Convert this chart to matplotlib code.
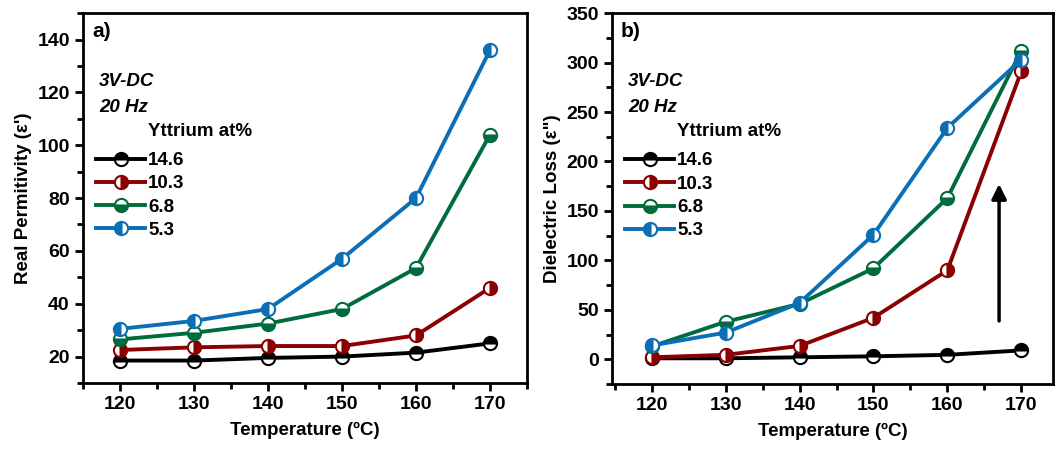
"""
Dielectric response vs temperature for Y-doped samples
Two panels: real permittivity (a) and dielectric loss (b)
"""

import matplotlib
matplotlib.use('Agg')
import matplotlib.pyplot as plt
from matplotlib.ticker import MultipleLocator

plt.rcParams['font.family'] = ['Liberation Sans', 'DejaVu Sans']
plt.rcParams['font.weight'] = 'bold'

# Data
temperature = [120, 130, 140, 150, 160, 170]
yttrium_labels = ['14.6', '10.3', '6.8', '5.3']
series_colors = ['#000000', '#8b0000', '#006b3c', '#0a6fb5']
fill_styles = ['top', 'right', 'bottom', 'left']

real_perm = [
    [18.5, 18.5, 19.5, 20.0, 21.5, 25.0],
    [22.5, 23.5, 24.0, 24.0, 28.0, 46.0],
    [26.5, 29.0, 32.5, 38.0, 53.5, 104.0],
    [30.5, 33.5, 38.0, 57.0, 80.0, 136.0],
]

diel_loss = [
    [1.0, 1.0, 2.0, 3.0, 4.5, 9.0],
    [2.0, 4.5, 13.5, 42.0, 90.0, 291.0],
    [13.0, 38.0, 56.0, 92.0, 163.0, 312.0],
    [14.0, 27.0, 57.0, 126.0, 234.0, 303.0],
]


def style_axis(ax, ylim, ymajor, yminor):
    """Set limits, ticks and spines like the original Origin plot."""
    ax.set_xlim(115, 175)
    ax.set_ylim(*ylim)
    ax.xaxis.set_major_locator(MultipleLocator(10))
    ax.xaxis.set_minor_locator(MultipleLocator(5))
    ax.yaxis.set_major_locator(MultipleLocator(ymajor))
    ax.yaxis.set_minor_locator(MultipleLocator(yminor))
    ax.tick_params(which='both', direction='out', width=2,
                   top=False, right=False, labelsize=14)
    ax.tick_params(which='major', length=6)
    ax.tick_params(which='minor', length=4)
    for spine in ax.spines.values():
        spine.set_linewidth(2)
    ax.set_xlabel('Temperature (ºC)', fontsize=13.5, fontweight='bold', labelpad=6)


def draw_panel(ax, values, tag):
    """Draw the four series plus the annotations."""
    for vals, lab, col, fs in zip(values, yttrium_labels, series_colors, fill_styles):
        ax.plot(temperature, vals, color=col, lw=2.8, marker='o', markersize=9.5,
                fillstyle=fs, markerfacecolor=col, markerfacecoloralt='white',
                markeredgecolor=col, markeredgewidth=1.5, label=lab)
    ax.text(0.02, 0.975, tag, transform=ax.transAxes, fontsize=15,
            fontweight='bold', va='top', ha='left')
    ax.text(0.036, 0.815, '3V-DC', transform=ax.transAxes, fontsize=13.5,
            fontweight='bold', style='italic', va='center')
    ax.text(0.036, 0.745, '20 Hz', transform=ax.transAxes, fontsize=13.5,
            fontweight='bold', style='italic', va='center')
    ax.text(0.147, 0.68, 'Yttrium at%', transform=ax.transAxes, fontsize=13.5,
            fontweight='bold', va='center')
    ax.legend(loc='upper left', bbox_to_anchor=(0.005, 0.655), frameon=False,
              fontsize=13.5, handlelength=2.6, handletextpad=0.15,
              labelspacing=0.33, borderaxespad=0.2)


fig = plt.figure(figsize=[10.55, 4.53], dpi=100)
ax_a = fig.add_axes([0.0787, 0.1545, 0.4208, 0.8165])
ax_b = fig.add_axes([0.5801, 0.1523, 0.4180, 0.8187])

draw_panel(ax_a, real_perm, 'a)')
style_axis(ax_a, (10, 150), 20, 10)
ax_a.set_ylabel("Real Permitivity (ε')", fontsize=13.5, fontweight='bold')

draw_panel(ax_b, diel_loss, 'b)')
style_axis(ax_b, (-25, 350), 50, 25)
ax_b.set_xlim(114.6, 174.3)
ax_b.set_ylabel('Dielectric Loss (ε")', fontsize=13.5, fontweight='bold')

# Arrow showing the increase of loss with decreasing Y content
ax_b.annotate('', xy=(167, 180), xytext=(167, 36),
              arrowprops=dict(arrowstyle='-|>', color='black', lw=2.5,
                              mutation_scale=22))

fig.savefig('out.png', dpi=100)
